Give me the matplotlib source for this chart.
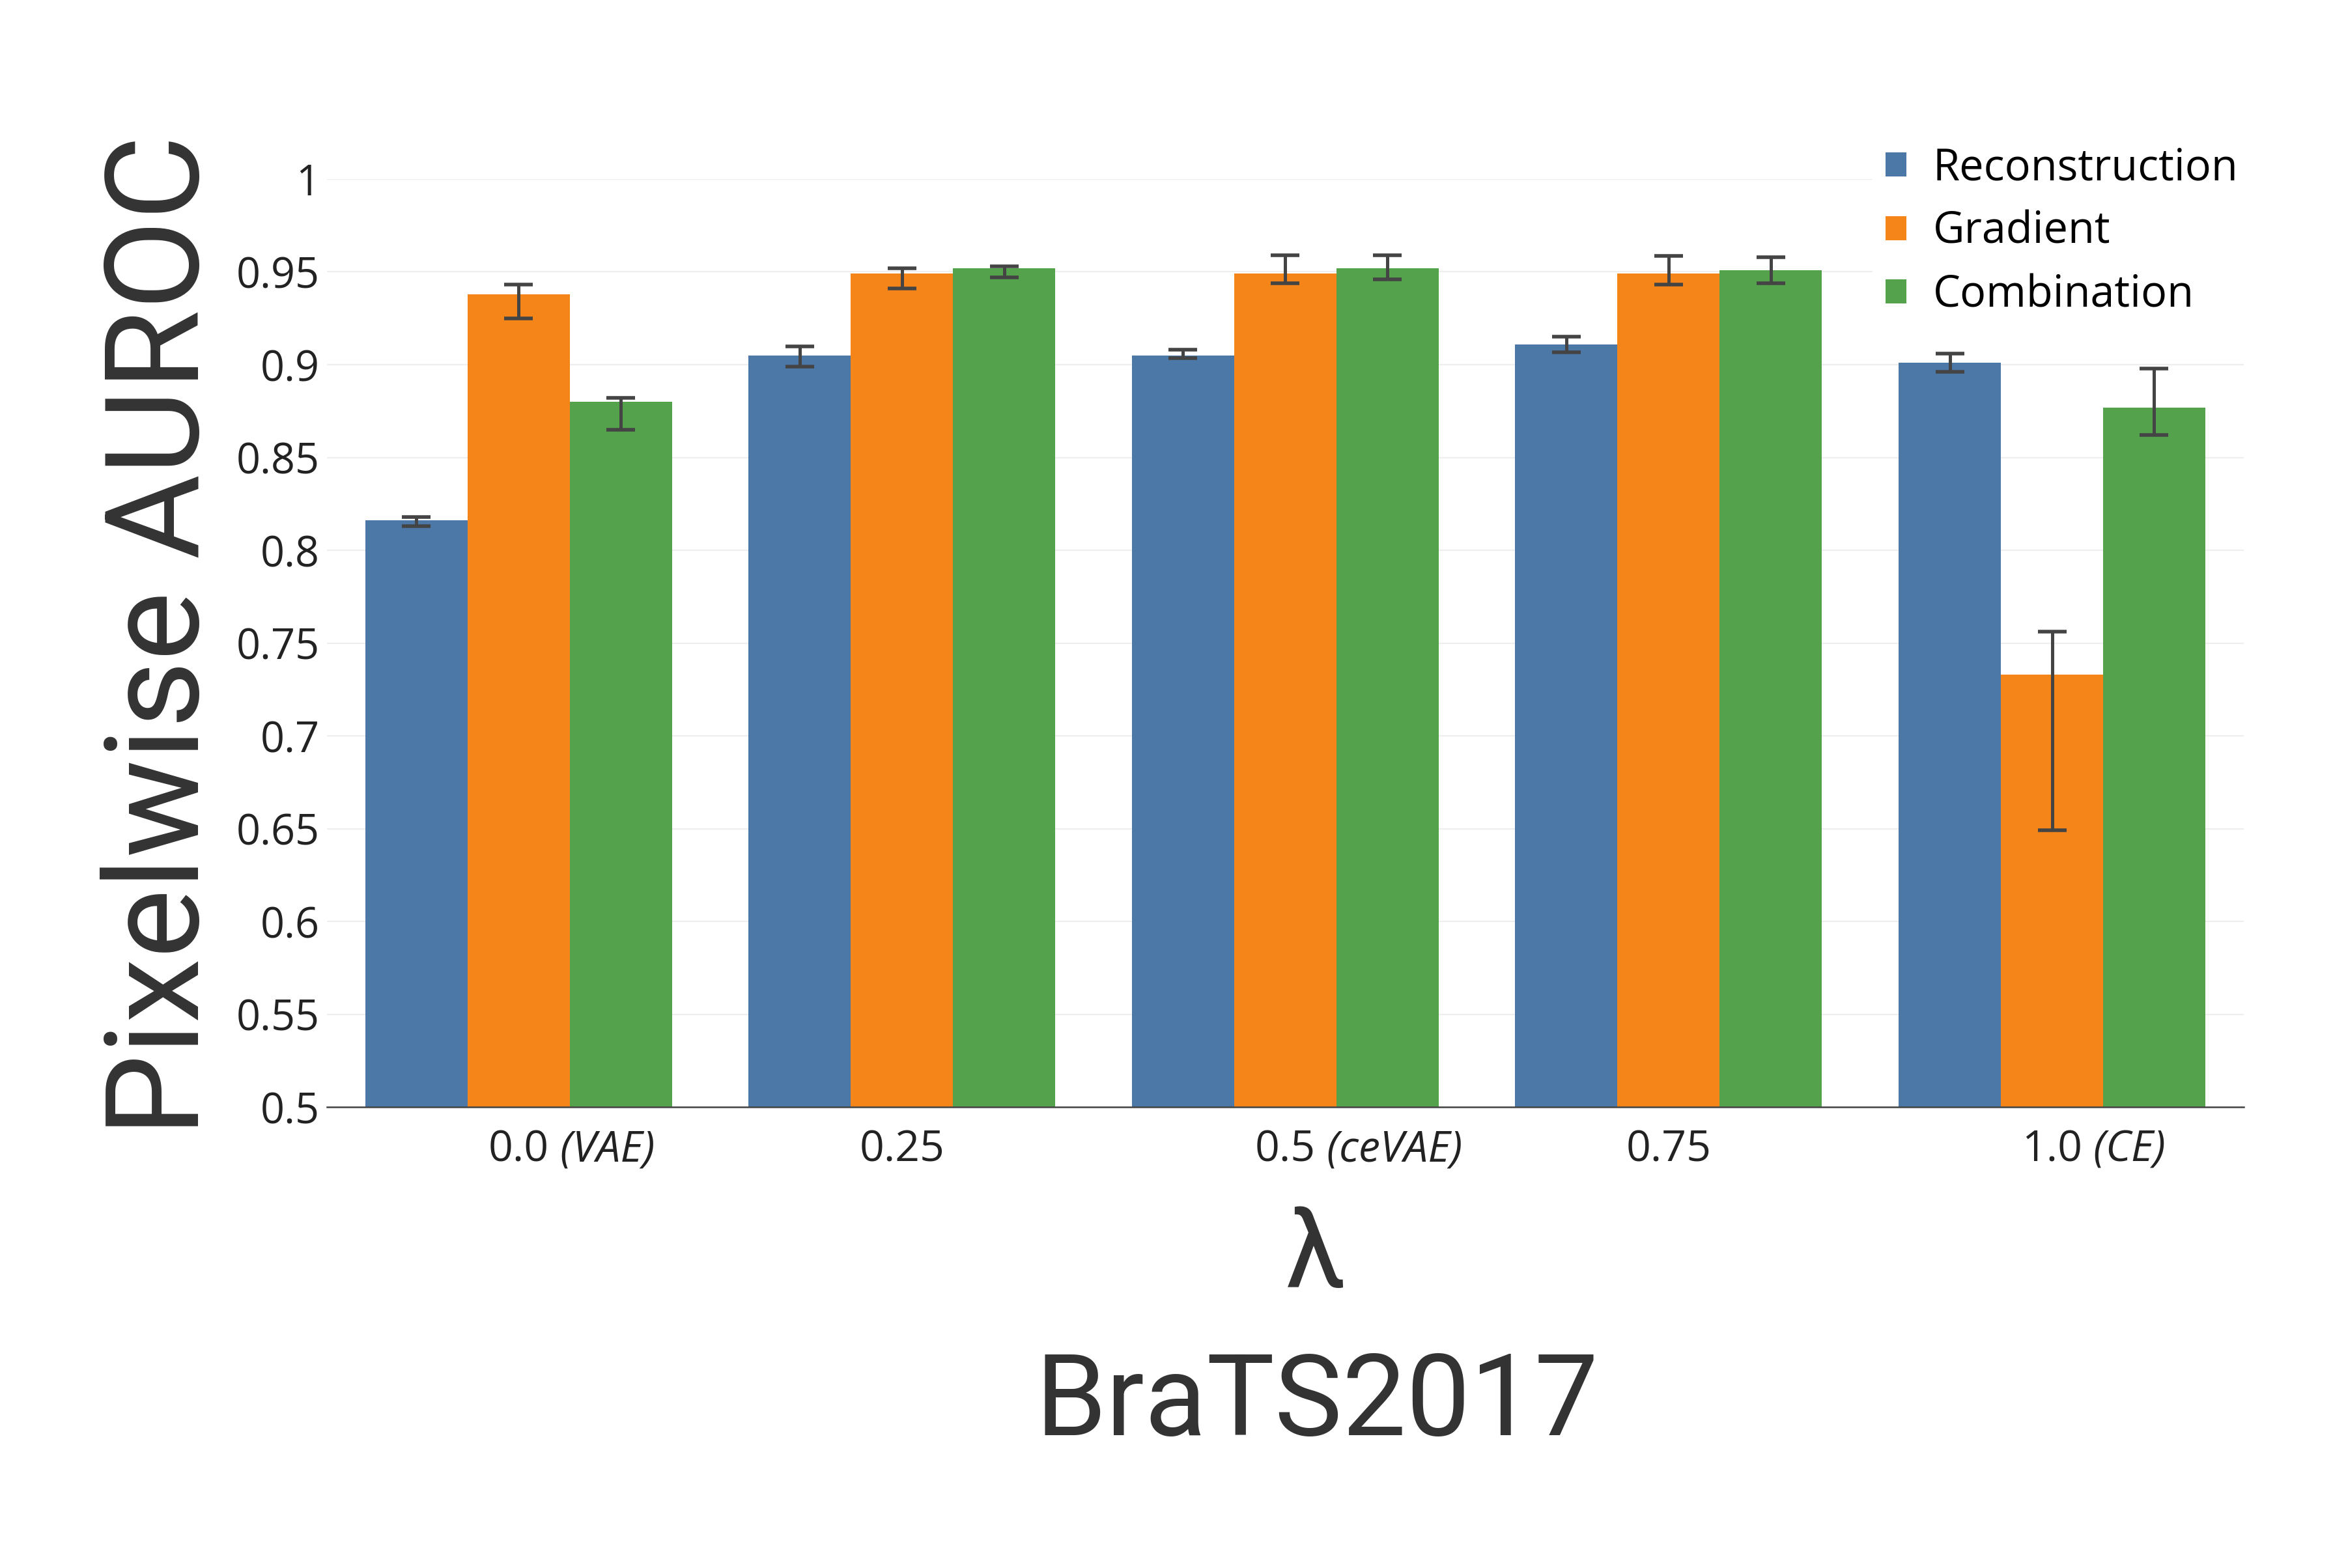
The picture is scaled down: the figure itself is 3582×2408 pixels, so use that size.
import matplotlib
matplotlib.use('Agg')
import matplotlib.pyplot as plt
from matplotlib.patches import Patch
import numpy as np

plt.rcParams['font.family'] = ['Open Sans', 'DejaVu Sans']

# lambda values on the x axis, with the model name shown in italics
lam_labels = ['0.0', '0.25', '0.5', '0.75', '1.0']
lam_suffix = ['(VAE)', '', '(ceVAE)', '', '(CE)']

series_names = ['Reconstruction', 'Gradient', 'Combination']

# bar heights, upper and lower ends of the error bars
recon = [0.816, 0.905, 0.905, 0.911, 0.901]
recon_hi = [0.818, 0.910, 0.908, 0.915, 0.906]
recon_lo = [0.813, 0.899, 0.9035, 0.9065, 0.896]

grad = [0.938, 0.949, 0.949, 0.949, 0.733]
grad_hi = [0.943, 0.952, 0.959, 0.9586, 0.756]
grad_lo = [0.925, 0.941, 0.944, 0.943, 0.649]

comb = [0.880, 0.952, 0.952, 0.951, 0.877]
comb_hi = [0.882, 0.953, 0.959, 0.958, 0.898]
comb_lo = [0.865, 0.947, 0.946, 0.944, 0.862]

colors = ['#4C78A8', '#F58518', '#54A24B']

fig = plt.figure(figsize=(17.91, 12.04), dpi=200)
ax = fig.add_axes([0.1401, 0.294, 0.9617 - 0.1401, 0.8858 - 0.294])

x = np.arange(len(lam_labels))
width = 0.8 / 3
all_vals = [(recon, recon_hi, recon_lo), (grad, grad_hi, grad_lo), (comb, comb_hi, comb_lo)]
for i, (vals, hi, lo) in enumerate(all_vals):
    vals = np.array(vals)
    yerr = [vals - np.array(lo), np.array(hi) - vals]
    ax.bar(x + (i - 1) * width, vals, width, color=colors[i], zorder=2,
           yerr=yerr, error_kw=dict(ecolor='#444444', elinewidth=1.8, capsize=8,
                                    capthick=2.0, zorder=3))

ax.set_xlim(-0.5, len(lam_labels) - 0.5)
ax.set_ylim(0.5, 1.0)
ax.set_yticks(np.arange(0.5, 1.0001, 0.05))
ax.set_yticklabels(['0.5', '0.55', '0.6', '0.65', '0.7', '0.75', '0.8', '0.85', '0.9', '0.95', '1'])
ax.yaxis.grid(True, color='#eeeeee', linewidth=0.8, zorder=0)
ax.set_axisbelow(True)
for s in ['top', 'right', 'left']:
    ax.spines[s].set_visible(False)
ax.spines['bottom'].set_color('#444444')
ax.spines['bottom'].set_linewidth(0.9)
ax.spines['bottom'].set_zorder(4)
ax.tick_params(axis='y', length=0, pad=4, labelsize=23.3, labelcolor='#222222')
ax.tick_params(axis='x', length=0, pad=12, labelsize=23.8, labelcolor='#222222')
ax.set_xticks(x)
ax.set_xticklabels(lam_labels)

# italic model names hang to the right of the centred numbers
for lbl, suf in zip(ax.get_xticklabels(), lam_suffix):
    if suf:
        ax.annotate(' ' + suf, xy=(1, 0), xycoords=lbl, ha='left', va='bottom',
                    fontsize=23.8, style='italic', color='#222222')

fig.text(0.0697, 0.5947, 'Pixelwise AUROC', rotation=90, ha='center', va='center',
         fontsize=72, family='Roboto', color='#333333')
fig.text(0.564, 1 - 1976 / 2408, 'λ', ha='center', va='baseline',
         fontsize=60, family='Roboto', color='#333333')
fig.text(0.5645, 1 - 2204 / 2408, 'BraTS2017', ha='center', va='baseline',
         fontsize=63, family='Roboto', color='#333333')

handles = [Patch(facecolor=c, edgecolor='none') for c in colors]
fig.legend(handles, series_names, loc='upper left', bbox_to_anchor=(0.7932, 0.9288),
           fontsize=24, frameon=True, facecolor='white', edgecolor='none', framealpha=1,
           handlelength=0.48, handleheight=0.48, handletextpad=0.62,
           labelspacing=0.45, borderpad=0.3, fancybox=False)

fig.savefig('out.png', dpi=200, facecolor='white')
